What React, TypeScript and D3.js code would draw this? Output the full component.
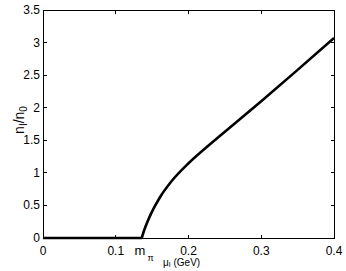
import * as d3 from "d3";

// isospin chemical potential (GeV) vs isospin density ratio
const muI = [0, 0.1357, 0.1392, 0.1485, 0.1608, 0.1769, 0.1997, 0.2272, 0.257, 0.3, 0.35, 0.4];
const nRatio = [0, 0, 0.1225, 0.374, 0.626, 0.875, 1.144, 1.417, 1.697, 2.101, 2.581, 3.071];

const xTicks = [0, 0.1, 0.2, 0.3, 0.4];
const xTickLabels = ["0", "0.1", "0.2", "0.3", "0.4"];
const yTicks = [0, 0.5, 1, 1.5, 2, 2.5, 3, 3.5];
const yTickLabels = ["0", "0.5", "1", "1.5", "2", "2.5", "3", "3.5"];
const mPi = 0.134;

export default function App() {
  const width = 346;
  const height = 271;
  const left = 43;
  const right = 334;
  const top = 10;
  const bottom = 238;

  const x = d3.scaleLinear().domain([0, 0.4]).range([left, right]);
  const y = d3.scaleLinear().domain([0, 3.5]).range([bottom, top]);

  const pts: [number, number][] = muI.map((m, i) => [m, nRatio[i]]);
  const flat = d3
    .line<[number, number]>()
    .x((d) => x(d[0]))
    .y((d) => y(d[1]));
  const rise = d3
    .line<[number, number]>()
    .x((d) => x(d[0]))
    .y((d) => y(d[1]))
    .curve(d3.curveMonotoneX);

  const font = "'Liberation Sans', Arial, sans-serif";
  const tl = 3.5;

  return (
    <svg
      width={width}
      height={height}
      style={{ position: "absolute", left: 0, top: 0, background: "#fff" }}
      fontFamily={font}
    >
      <rect x={0} y={0} width={width} height={height} fill="#fff" />
      <path d={flat(pts.slice(0, 2)) ?? ""} fill="none" stroke="#000" strokeWidth={2.6} />
      <path d={rise(pts.slice(1)) ?? ""} fill="none" stroke="#000" strokeWidth={2.6} />
      <rect
        x={left}
        y={top}
        width={right - left}
        height={bottom - top}
        fill="none"
        stroke="#000"
        strokeWidth={1}
        shapeRendering="crispEdges"
      />
      {xTicks.map((t, i) => (
        <g key={"x" + i}>
          <line x1={x(t)} x2={x(t)} y1={bottom} y2={bottom - tl} stroke="#000" shapeRendering="crispEdges" />
          <line x1={x(t)} x2={x(t)} y1={top} y2={top + tl} stroke="#000" shapeRendering="crispEdges" />
          <text x={x(t)} y={255} fontSize={12} textAnchor="middle">
            {xTickLabels[i]}
          </text>
        </g>
      ))}
      {yTicks.map((t, i) => (
        <g key={"y" + i}>
          <line x1={left} x2={left + tl} y1={y(t)} y2={y(t)} stroke="#000" shapeRendering="crispEdges" />
          <line x1={right} x2={right - tl} y1={y(t)} y2={y(t)} stroke="#000" shapeRendering="crispEdges" />
          <text x={40} y={y(t) + 4} fontSize={12} textAnchor="end">
            {yTickLabels[i]}
          </text>
        </g>
      ))}
      <text x={x(mPi) - 6} y={255} fontSize={13}>
        m
      </text>
      <text x={x(mPi) + 7} y={261} fontSize={9}>
        π
      </text>
      <text x={163} y={266} fontSize={10}>
        μ
        <tspan fontSize={7} dy={1}>I</tspan>
        <tspan dy={-1}> (GeV)</tspan>
      </text>
      <text transform="translate(24,120) rotate(-90)" fontSize={14} textAnchor="middle">
        n
        <tspan fontSize={10} dy={3}>I</tspan>
        <tspan dy={-3}>/n</tspan>
        <tspan fontSize={10} dy={3}>0</tspan>
      </text>
    </svg>
  );
}
